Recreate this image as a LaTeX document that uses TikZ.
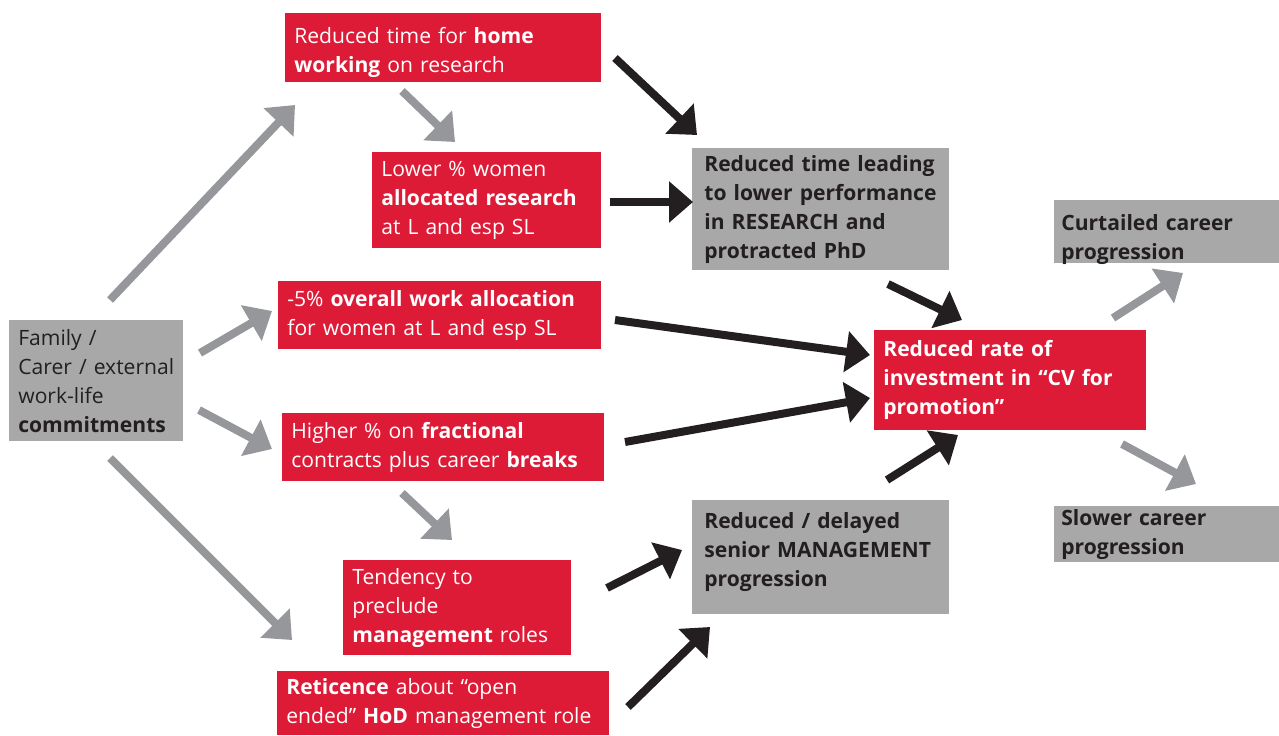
\documentclass[tikz,border=0pt]{standalone}
\usepackage{fontspec}
\setmainfont{Open Sans}
\usetikzlibrary{arrows.meta}
\definecolor{BoxRed}{RGB}{221,27,55}
\definecolor{BoxGray}{RGB}{168,168,168}
\definecolor{ArrGray}{RGB}{150,151,155}
\definecolor{ArrBlack}{RGB}{35,31,32}
\tikzset{
  box/.style={anchor=north west,inner xsep=1.8mm,inner ysep=0pt,align=left,
    font=\fontsize{12}{16.5}\selectfont},
  redbox/.style={box,fill=BoxRed,text=white},
  graybox/.style={box,fill=BoxGray,text=ArrBlack},
  garrow/.style={draw=ArrGray,line width=1.6mm,-{Triangle[length=4.8mm,width=8mm]}},
  barrow/.style={draw=ArrBlack,line width=1.6mm,-{Triangle[length=4.8mm,width=8mm]}},
}

\begin{document}
\begin{tikzpicture}[x=0.2mm,y=-0.2mm]
\useasboundingbox (0,0) rectangle (1279,735);
\node[redbox,minimum width=63.2mm,minimum height=13.8mm,text width=59.6mm,text depth=4.9mm] (home) at (285,13)
  {Reduced time for \textbf{home}\\\textbf{working} on research};
\node[redbox,minimum width=45.8mm,minimum height=19.2mm,text width=42.2mm] (lower) at (372,152)
  {Lower \% women\\\textbf{allocated research}\\at L and esp SL};
\node[redbox,minimum width=64.6mm,minimum height=13.6mm,text width=61mm] (overall) at (278,281)
  {-5\% \textbf{overall work allocation}\\for women at L and esp SL};
\node[redbox,minimum width=64.4mm,minimum height=13.6mm,text width=60.8mm] (fract) at (282,413)
  {Higher \% on \textbf{fractional}\\contracts plus career \textbf{breaks}};
\node[redbox,minimum width=45.6mm,minimum height=19mm,text width=42mm] (tend) at (343,560)
  {Tendency to\\preclude\\\textbf{management} roles};
\node[redbox,minimum width=66.4mm,minimum height=12.8mm,text width=62.8mm] (retic) at (277,671)
  {\textbf{Reticence} about ``open\\ended'' \textbf{HoD} management role};
\node[graybox,minimum width=34.8mm,minimum height=24.2mm,text width=31.2mm] (family) at (9,320)
  {Family /\\Carer / external\\work-life\\\textbf{commitments}};
\node[graybox,minimum width=51.4mm,minimum height=24.4mm,text width=46.6mm,inner xsep=2.4mm] (redtime) at (692,148)
  {\textbf{Reduced time leading}\\\textbf{to lower performance}\\\textbf{in RESEARCH and}\\\textbf{protracted PhD}};
\node[graybox,minimum width=51.4mm,minimum height=22.8mm,text width=46.6mm,inner xsep=2.4mm,text depth=14.7mm] (mgmt) at (692,500)
  {\textbf{Reduced / delayed}\\\textbf{senior MANAGEMENT}\\\textbf{progression}};
\node[redbox,minimum width=54.4mm,minimum height=20mm,text width=50.8mm] (cv) at (874,330)
  {\textbf{Reduced rate of}\\\textbf{investment in ``CV for}\\\textbf{promotion''}};
\node[graybox,minimum width=45mm,minimum height=12.6mm,text width=42.2mm,inner xsep=1.4mm,text depth=3.7mm] (curt) at (1054,200)
  {\textbf{Curtailed career}\\\textbf{progression}};
\node[graybox,minimum width=45mm,minimum height=11.2mm,text width=42.2mm,inner xsep=1.4mm] (slow) at (1054,506)
  {\textbf{Slower career}\\\textbf{progression}};
% arrow ends
\coordinate (fh1) at (110,300);  \coordinate (fh2) at (295,105);
\coordinate (fo1) at (200,353);  \coordinate (fo2) at (272,311);
\coordinate (ff1) at (199,410);  \coordinate (ff2) at (272,449);
\coordinate (fr1) at (110,458);  \coordinate (fr2) at (292,640);
\coordinate (hl1) at (402,91);   \coordinate (hl2) at (455,142);
\coordinate (ft1) at (402,493);  \coordinate (ft2) at (452,540);
\coordinate (cc1) at (1113,318); \coordinate (cc2) at (1183,273);
\coordinate (cs1) at (1122,444); \coordinate (cs2) at (1196,484);
\coordinate (hr1) at (615,58);   \coordinate (hr2) at (697,135);
\coordinate (lr1) at (610,202);  \coordinate (lr2) at (693,202);
\coordinate (rc1) at (888,284);  \coordinate (rc2) at (962,320);
\coordinate (oc1) at (615,320);  \coordinate (oc2) at (870,355);
\coordinate (xc1) at (625,442);  \coordinate (xc2) at (870,398);
\coordinate (mc1) at (887,480);  \coordinate (mc2) at (958,435);
\coordinate (tm1) at (607,588);  \coordinate (tm2) at (682,550);
\coordinate (rm1) at (628,707);  \coordinate (rm2) at (710,627);
\draw[garrow] (fh1)--(fh2);
\draw[garrow] (fo1)--(fo2);
\draw[garrow] (ff1)--(ff2);
\draw[garrow] (fr1)--(fr2);
\draw[garrow] (hl1)--(hl2);
\draw[garrow] (ft1)--(ft2);
\draw[garrow] (cc1)--(cc2);
\draw[garrow] (cs1)--(cs2);
\draw[barrow] (hr1)--(hr2);
\draw[barrow] (lr1)--(lr2);
\draw[barrow] (rc1)--(rc2);
\draw[barrow] (oc1)--(oc2);
\draw[barrow] (xc1)--(xc2);
\draw[barrow] (mc1)--(mc2);
\draw[barrow] (tm1)--(tm2);
\draw[barrow] (rm1)--(rm2);
\end{tikzpicture}
\end{document}
